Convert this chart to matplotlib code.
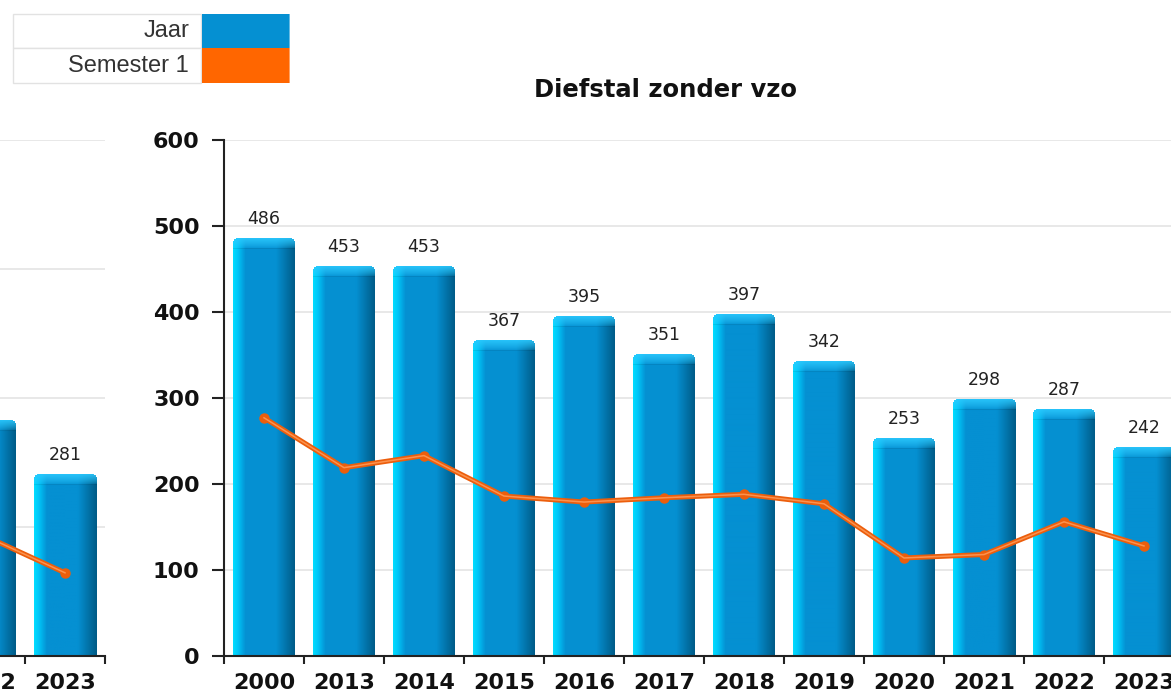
import numpy as np
import matplotlib
matplotlib.use("Agg")
import matplotlib.pyplot as plt
from matplotlib.patches import Rectangle
from matplotlib.colors import to_rgb

W, H = 1171, 692

TITLE = "Diefstal zonder vzo"
YEARS = ["2000", "2013", "2014", "2015", "2016", "2017", "2018", "2019",
         "2020", "2021", "2022", "2023"]
JAAR = [486, 453, 453, 367, 395, 351, 397, 342, 253, 298, 287, 242]
SEMESTER_1 = [277, 219, 233, 186, 179, 184, 188, 177, 114, 118, 156, 128]

# the neighbouring chart, mostly cut off at the left edge
PREV_YEARS = ["2022", "2023"]
PREV_JAAR = [365, 281]
PREV_SEMESTER_1 = [186, 129]

LEGEND = ["Jaar", "Semester 1"]
BLUE = "#0590d2"
ORANGE = "#ff6600"
LINE = "#ec5e0c"


def px(x, y):
    # pixel position -> figure fraction
    return x / W, 1 - y / H


def bar_profile(ncol):
    stops = [(0.0, "#00dcff"), (0.07, "#00c6f8"), (0.2, BLUE),
             (0.7, BLUE), (1.0, "#005c88")]
    xs = np.linspace(0, 1, ncol)
    pos = [s[0] for s in stops]
    cols = np.array([to_rgb(s[1]) for s in stops])
    return np.stack([np.interp(xs, pos, cols[:, c]) for c in range(3)], axis=1)


def draw_bars(ax, values, px_per_unit):
    bars = ax.bar(range(len(values)), values, width=0.775, color="none",
                  zorder=2)
    light = np.array(to_rgb("#2ccaff"))
    ncol = 62
    prof = bar_profile(ncol)
    radius = 5
    for rect in bars:
        x0, w, h = rect.get_x(), rect.get_width(), rect.get_height()
        rows = max(int(round(h * px_per_unit)), 12)
        img = np.ones((rows, ncol, 4))
        img[:, :, :3] = prof
        band = 10
        for i in range(band):
            f = 0.85 * (1 - i / band) ** 0.7
            img[i, :, :3] = img[i, :, :3] * (1 - f) + light * f
        # darker seam under the top bevel
        img[band, :, :3] *= 0.92
        # rounded top corners
        for i in range(radius):
            for j in range(radius):
                d = np.hypot(radius - i - 0.5, radius - j - 0.5)
                if d > radius:
                    img[i, j, 3] = 0
                    img[i, ncol - 1 - j, 3] = 0
        ax.imshow(img, extent=(x0, x0 + w, 0, h), aspect="auto",
                  interpolation="bilinear", zorder=2.1)
    for i, v in enumerate(values):
        ax.annotate(str(v), (i, v), xytext=(0, 14), textcoords="offset points",
                    ha="center", va="center", fontsize=12.5, color="#222222",
                    zorder=6)


def draw_line(ax, values):
    xs = range(len(values))
    ax.plot(xs, values, color=LINE, lw=3.6, marker="o", ms=6.5,
            solid_capstyle="round", zorder=4)
    ax.plot(xs, values, color="#ffa060", lw=1.1, alpha=0.8, zorder=5)


def style_axes(ax, labels, ymax, step):
    n = len(labels)
    ax.set_xlim(-0.5, n - 0.5)
    ax.set_ylim(0, ymax)
    ax.set_yticks(np.arange(0, ymax + 1, step))
    ax.yaxis.grid(True, color="#e6e6e6", lw=1.3)
    ax.set_axisbelow(True)
    ax.set_xticks(range(n))
    ax.set_xticklabels(labels)
    ax.set_xticks(np.arange(-0.5, n), minor=True)
    ax.tick_params(axis="x", which="major", length=0, pad=12)
    ax.tick_params(axis="x", which="minor", length=5.5, width=1.5,
                   direction="out", color="#222222")
    ax.tick_params(axis="y", length=8.5, width=1.5, pad=9, color="#222222")
    for lab in ax.get_xticklabels() + ax.get_yticklabels():
        lab.set_fontsize(16)
        lab.set_fontweight("bold")
        lab.set_color("#111111")
    for s in ["top", "right"]:
        ax.spines[s].set_visible(False)
    for s in ["left", "bottom"]:
        ax.spines[s].set_linewidth(1.5)
        ax.spines[s].set_color("#222222")


fig = plt.figure(figsize=(W / 100, H / 100), dpi=100)

# main chart: 80 px per category, 0..600 over 516 px
x0, y0 = px(224, 656)
ax = fig.add_axes([x0, y0, 960 / W, 516 / H])
draw_bars(ax, JAAR, 516 / 600)
draw_line(ax, SEMESTER_1)
style_axes(ax, YEARS, 600, 100)

# previous chart, only its last two categories are in view
x0, y0 = px(-55, 656)
ax2 = fig.add_axes([x0, y0, 160 / W, 516 / H])
draw_bars(ax2, PREV_JAAR, 516 / 800)
draw_line(ax2, PREV_SEMESTER_1)
style_axes(ax2, PREV_YEARS, 800, 200)

tx, ty = px(666, 90)
fig.text(tx, ty, TITLE, ha="center", va="center", fontsize=17.5,
         fontweight="bold", color="#111111")

# legend table in the top left corner
rows = [(14, 48), (48, 83)]
for (top, bot), label, col in zip(rows, LEGEND, [BLUE, ORANGE]):
    lx, ly = px(13, bot)
    fig.add_artist(Rectangle((lx, ly), 188 / W, (bot - top) / H,
                             transform=fig.transFigure, facecolor="white",
                             edgecolor="#e2e2e2", lw=1))
    sx, sy = px(202, bot)
    fig.add_artist(Rectangle((sx, sy), 87 / W, (bot - top) / H,
                             transform=fig.transFigure, facecolor=col,
                             edgecolor="none"))
    ex, ey = px(289, bot)
    fig.add_artist(Rectangle((ex, ey), 1.2 / W, (bot - top) / H,
                             transform=fig.transFigure, facecolor=col,
                             edgecolor="none", alpha=0.6))
    tx, ty = px(189, (top + bot) / 2)
    fig.text(tx, ty, label, ha="right", va="center", fontsize=17,
             family="Liberation Sans", color="#333333")

fig.savefig("out.png", dpi=100)
